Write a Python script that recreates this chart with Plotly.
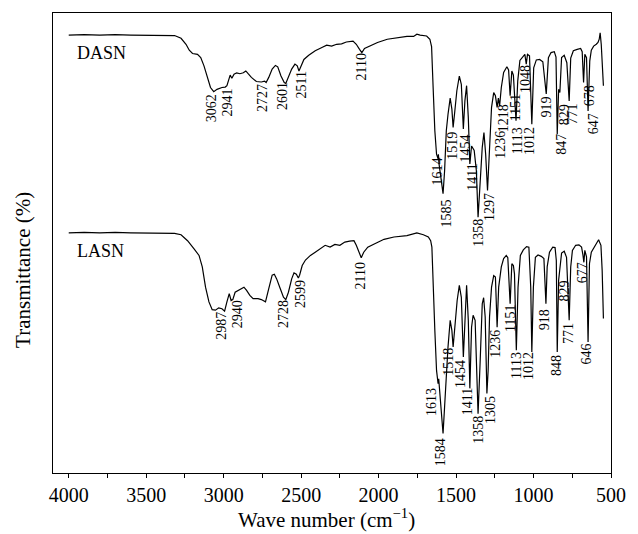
import plotly.graph_objects as go

# ---- FTIR spectra: wavenumber (cm-1) and transmittance (offset, arbitrary %) ----
dasn_wn = [4000, 3900, 3800, 3700, 3600, 3486, 3317, 3275, 3243, 3222, 3201, 3169, 3148, 3127,
           3106, 3085, 3064, 3043, 3011, 2990, 2979, 2969, 2958, 2947, 2933, 2916, 2895, 2873,
           2857, 2842, 2821, 2789, 2757, 2736, 2726, 2709, 2687, 2666, 2651, 2630, 2609, 2599,
           2582, 2561, 2540, 2525, 2514, 2504, 2482, 2451, 2409, 2366, 2335, 2303, 2271, 2239,
           2208, 2165, 2144, 2123, 2108, 2091, 2049, 2007, 1944, 1880, 1817, 1774, 1753, 1732,
           1690, 1669, 1658, 1648, 1637, 1626, 1616, 1614, 1610, 1595, 1584, 1574, 1563, 1552,
           1538, 1527, 1519, 1508, 1495, 1479, 1466, 1453, 1443, 1432, 1421, 1411, 1400, 1383,
           1369, 1358, 1345, 1331, 1320, 1309, 1297, 1284, 1271, 1257, 1246, 1235, 1227, 1219,
           1208, 1193, 1172, 1161, 1151, 1140, 1130, 1113, 1102, 1088, 1066, 1056, 1047, 1039,
           1026, 1011, 999, 982, 961, 940, 918, 904, 887, 866, 855, 847, 838, 830, 819, 802,
           785, 770, 760, 743, 718, 696, 686, 677, 669, 658, 648, 637, 627, 612, 595, 584,
           576, 570, 563, 555, 549]
dasn_t = [95.2, 95.3, 95.2, 95.3, 95.2, 95.15, 95.1, 94.5, 93.2, 91.9, 91.2, 91.0, 90.3, 88.5,
          86.0, 83.8, 82.9, 83.4, 83.8, 83.9, 84.2, 85.6, 86.5, 85.8, 86.7, 87.0, 86.8, 87.0,
          87.4, 86.8, 86.0, 85.1, 85.0, 85.2, 84.9, 86.0, 87.8, 88.6, 88.3, 86.3, 84.9, 84.7,
          86.0, 87.8, 88.9, 88.5, 87.4, 88.1, 89.9, 90.8, 91.8, 92.5, 93.0, 92.8, 93.2, 93.3,
          93.7, 93.9, 93.2, 92.1, 91.4, 92.3, 93.0, 93.6, 94.3, 94.6, 94.9, 94.9, 95.4, 95.2,
          95.0, 94.3, 92.7, 83.8, 74.4, 69.3, 68.3, 69.3, 67.2, 63.5, 60.7, 65.7, 74.4, 78.0,
          81.5, 79.1, 75.1, 78.7, 83.1, 86.3, 84.5, 74.8, 80.9, 84.2, 77.3, 67.2, 71.1, 70.1,
          65.7, 55.6, 63.6, 70.8, 74.0, 69.3, 61.4, 70.8, 79.5, 82.7, 82.0, 79.5, 81.5, 79.8,
          83.8, 87.1, 88.3, 87.6, 82.0, 87.4, 86.5, 76.6, 85.2, 89.7, 90.7, 91.0, 88.9, 91.0,
          90.7, 75.8, 88.1, 89.8, 89.9, 89.4, 82.4, 90.3, 91.4, 91.6, 90.4, 73.7, 83.4, 82.7,
          90.3, 90.8, 89.2, 80.9, 90.2, 91.8, 92.1, 92.3, 91.6, 84.9, 91.0, 90.3, 78.7, 89.6,
          91.9, 92.8, 93.2, 93.6, 94.3, 95.7, 93.2, 88.9, 84.2]

lasn_wn = [4000, 3900, 3800, 3700, 3600, 3486, 3317, 3275, 3233, 3191, 3159, 3138, 3117, 3095,
           3074, 3053, 3032, 3011, 2994, 2979, 2964, 2952, 2941, 2926, 2905, 2884, 2869, 2852,
           2831, 2810, 2778, 2757, 2730, 2709, 2687, 2673, 2658, 2635, 2614, 2599, 2582, 2561,
           2546, 2531, 2518, 2510, 2493, 2472, 2440, 2409, 2377, 2345, 2313, 2282, 2250, 2218,
           2187, 2159, 2144, 2123, 2112, 2096, 2070, 2028, 1965, 1901, 1817, 1753, 1711, 1679,
           1664, 1656, 1648, 1637, 1626, 1616, 1612, 1607, 1595, 1584, 1574, 1563, 1552, 1538,
           1527, 1519, 1508, 1493, 1479, 1466, 1453, 1443, 1432, 1421, 1411, 1400, 1390, 1377,
           1369, 1358, 1345, 1331, 1322, 1312, 1301, 1293, 1284, 1271, 1257, 1246, 1235, 1225,
           1208, 1193, 1176, 1166, 1151, 1140, 1130, 1123, 1111, 1100, 1085, 1066, 1045, 1030,
           1018, 1011, 1001, 988, 971, 950, 933, 920, 912, 897, 876, 861, 853, 847, 838, 830,
           819, 802, 787, 770, 760, 749, 728, 707, 690, 682, 675, 669, 658, 648, 639, 627,
           608, 591, 580, 574, 565, 557, 549]
lasn_t = [52.2, 52.3, 52.2, 52.3, 52.2, 52.2, 52.1, 51.8, 50.5, 48.7, 47.3, 44.8, 40.4, 37.2,
          35.5, 35.4, 35.9, 35.7, 35.2, 37.2, 39.0, 37.5, 37.7, 39.3, 39.7, 40.1, 40.4, 39.7,
          38.6, 37.9, 37.9, 37.7, 37.2, 40.1, 43.0, 43.2, 42.2, 40.1, 38.2, 37.7, 39.3, 42.2,
          43.5, 43.2, 42.4, 43.0, 45.1, 46.3, 47.3, 48.0, 48.7, 49.5, 49.1, 49.7, 49.5, 50.2,
          50.4, 50.5, 49.5, 47.6, 46.8, 48.0, 49.1, 49.8, 50.8, 51.3, 51.6, 52.2, 51.8, 51.3,
          50.5, 49.1, 40.4, 31.0, 22.3, 19.4, 20.5, 18.4, 12.9, 8.6, 14.4, 22.3, 27.4, 33.2,
          31.0, 27.4, 31.7, 37.5, 40.8, 38.2, 25.2, 34.6, 40.8, 33.2, 18.4, 31.7, 34.3, 33.2,
          26.0, 12.9, 23.8, 36.8, 38.1, 33.9, 17.3, 22.3, 33.9, 40.4, 42.9, 42.6, 31.7, 40.4,
          44.8, 46.6, 47.3, 46.8, 36.8, 45.5, 45.1, 43.3, 26.7, 40.4, 47.3, 48.5, 49.2, 49.1,
          40.4, 26.3, 40.4, 46.9, 47.4, 47.1, 46.6, 36.8, 44.8, 48.0, 49.1, 49.0, 46.2, 26.3,
          41.9, 44.0, 47.8, 48.2, 46.9, 33.2, 44.8, 48.4, 49.5, 49.6, 49.1, 47.6, 45.8, 48.4,
          47.0, 28.5, 45.5, 48.0, 49.1, 49.8, 50.7, 50.2, 49.5, 44.0, 33.6]

# ---- peak assignments (text) ----
dasn_peaks = ["3062", "2941", "2727", "2601", "2511", "2110", "1614", "1585", "1519", "1454",
              "1411", "1358", "1297", "1236", "1218", "1151", "1113", "1048", "1012", "919",
              "847", "829", "771", "678", "647"]
lasn_peaks = ["2987", "2940", "2728", "2599", "2110", "1613", "1584", "1518", "1454", "1411",
              "1358", "1305", "1236", "1151", "1113", "1012", "918", "848", "829", "771",
              "677", "646"]

# label placement (wavenumber, transmittance of the label centre)
dasn_label_pos = [(3082, 79.3), (2973, 80.5), (2753, 81.5), (2616, 82.0), (2499, 84.3),
                  (2109, 88.3), (1622, 65.6), (1563, 56.5), (1521, 71.1), (1440, 70.6),
                  (1394, 64.3), (1356, 52.3), (1288, 57.8), (1218, 71.3), (1197, 77.1),
                  (1119, 79.3), (1098, 72.2), (1056, 85.6), (1022, 72.2), (918, 79.5),
                  (819, 71.5), (802, 77.8), (749, 78.0), (639, 82.0), (608, 75.9)]
lasn_label_pos = [(3015, 32.1), (2911, 34.6), (2610, 34.6), (2504, 38.8), (2117, 42.8),
                  (1660, 15.5), (1601, 4.6), (1548, 24.1), (1472, 21.6), (1426, 15.5),
                  (1356, 9.5), (1274, 13.7), (1242, 28.1), (1149, 33.6), (1109, 23.4),
                  (1028, 23.3), (933, 33.4), (851, 23.4), (802, 39.5), (775, 30.3),
                  (679, 43.5), (660, 25.8)]

FONT = "Liberation Serif, Times New Roman, serif"

fig = go.Figure()
for wn, t in ((dasn_wn, dasn_t), (lasn_wn, lasn_t)):
    fig.add_trace(go.Scatter(x=wn, y=t, mode="lines",
                             line=dict(color="black", width=1.2),
                             showlegend=False, hoverinfo="skip"))

annotations = []
for txt, (x, y) in list(zip(dasn_peaks, dasn_label_pos)) + list(zip(lasn_peaks, lasn_label_pos)):
    annotations.append(dict(x=x, y=y, xref="x", yref="y", text=txt, showarrow=False,
                            textangle=-90, xanchor="center", yanchor="middle",
                            font=dict(family=FONT, size=14, color="black")))

# sample names
for name, y in (("DASN", 91.4), ("LASN", 48.2)):
    annotations.append(dict(x=3962, y=y, xref="x", yref="y", text=name, showarrow=False,
                            xanchor="left", yanchor="middle",
                            font=dict(family=FONT, size=18, color="black")))

# axis titles
annotations.append(dict(x=-0.053, y=0.4425, xref="paper", yref="paper",
                        text="Transmittance (%)", showarrow=False, textangle=-90,
                        xanchor="center", yanchor="middle",
                        font=dict(family=FONT, size=21, color="black")))
annotations.append(dict(x=0.49, y=-0.098, xref="paper", yref="paper",
                        text="Wave number (cm<sup>−1</sup>)", showarrow=False,
                        xanchor="center", yanchor="middle",
                        font=dict(family=FONT, size=21, color="black")))

fig.update_layout(
    width=638, height=534,
    margin=dict(l=53, r=17, t=12, b=61),
    paper_bgcolor="white", plot_bgcolor="white",
    annotations=annotations,
    xaxis=dict(range=[4101.5, 500], tick0=500, dtick=500, ticks="outside", ticklen=4,
               tickwidth=1.2, tickcolor="black",
               minor=dict(dtick=250, tick0=500, ticks="outside", ticklen=4, tickwidth=1.2,
                          tickcolor="black"),
               showline=True, linecolor="black", linewidth=1.3, mirror=True,
               showgrid=False, zeroline=False,
               tickfont=dict(family=FONT, size=20, color="black")),
    yaxis=dict(range=[0, 100], showticklabels=False, ticks="", showline=True,
               linecolor="black", linewidth=1.3, mirror=True, showgrid=False, zeroline=False),
)

fig.write_html("out.html")
